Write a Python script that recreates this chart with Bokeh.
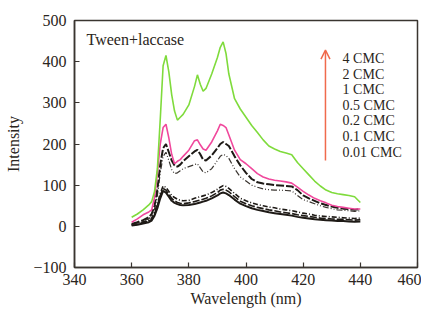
from bokeh.plotting import figure
from bokeh.models import ColumnDataSource, Label, Arrow, OpenHead, FixedTicker
from bokeh.embed import file_html
from bokeh.resources import INLINE

wavelength = [360, 362, 364, 366, 367, 368, 369, 370, 371, 372, 373, 374, 375, 376, 377, 378,
              380, 382, 383, 384, 385, 386, 388, 390, 391, 392, 393, 394, 396, 398, 400, 402,
              404, 406, 408, 410, 412, 414, 416, 418, 420, 422, 424, 426, 428, 430, 432, 434,
              436, 438, 440]

cmc_4 = [22, 30, 40, 52, 60, 85, 140, 260, 390, 415, 375, 320, 280, 258, 265, 272,
         295, 340, 368, 345, 328, 335, 370, 410, 435, 448, 420, 370, 310, 285, 265, 245,
         228, 210, 195, 188, 182, 178, 174, 155, 140, 125, 110, 98, 88, 82, 79, 77,
         75, 72, 58]
cmc_2 = [10, 18, 28, 35, 40, 70, 130, 200, 240, 248, 215, 175, 152, 158, 162, 170,
         185, 208, 210, 198, 188, 185, 205, 232, 248, 245, 240, 222, 185, 162, 152, 140,
         128, 120, 115, 112, 110, 108, 105, 95, 85, 76, 68, 62, 57, 51, 48, 46,
         44, 42, 42]
cmc_1 = [6, 10, 15, 22, 30, 50, 90, 150, 190, 200, 180, 160, 148, 145, 150, 158,
         170, 182, 186, 175, 162, 160, 172, 190, 200, 205, 200, 195, 170, 148, 130, 115,
         107, 104, 102, 100, 99, 98, 97, 88, 75, 68, 62, 56, 52, 48, 45, 43,
         42, 40, 42]
cmc_05 = [5, 8, 13, 18, 25, 42, 75, 130, 170, 180, 160, 138, 128, 130, 135, 140,
          145, 150, 152, 142, 132, 130, 140, 160, 170, 175, 172, 165, 140, 120, 110, 100,
          95, 91, 89, 88, 88, 87, 86, 75, 65, 60, 55, 50, 46, 43, 40, 39,
          38, 36, 38]
cmc_02 = [4, 7, 11, 15, 20, 35, 55, 80, 98, 95, 85, 75, 70, 66, 63, 62,
          63, 68, 70, 72, 74, 76, 82, 90, 95, 99, 97, 92, 80, 68, 62, 57,
          53, 50, 47, 45, 42, 40, 38, 35, 32, 30, 27, 25, 24, 23, 22, 21,
          20, 19, 20]
cmc_01 = [3, 5, 9, 13, 17, 30, 50, 75, 92, 88, 78, 68, 62, 58, 56, 55,
          57, 60, 62, 64, 66, 68, 74, 82, 88, 90, 88, 84, 72, 61, 55, 50,
          46, 43, 40, 38, 35, 33, 31, 28, 26, 24, 22, 20, 19, 18, 17, 17,
          16, 15, 16]
cmc_001 = [2, 4, 7, 10, 14, 26, 44, 68, 86, 82, 72, 62, 57, 54, 52, 51,
           52, 54, 56, 58, 60, 62, 68, 75, 80, 82, 80, 76, 65, 55, 49, 44,
           40, 37, 34, 32, 30, 28, 26, 23, 21, 19, 17, 16, 15, 14, 13, 13,
           12, 11, 12]

legend_labels = ["4 CMC", "2 CMC", "1 CMC", "0.5 CMC", "0.2 CMC", "0.1 CMC", "0.01 CMC"]
x_ticks = [340, 360, 380, 400, 420, 440, 460]
y_ticks = [-100, 0, 100, 200, 300, 400, 500]

src = ColumnDataSource(dict(x=wavelength, c4=cmc_4, c2=cmc_2, c1=cmc_1, c05=cmc_05,
                            c02=cmc_02, c01=cmc_01, c001=cmc_001))

FONT = "Liberation Serif"
TXT = "#2a2520"

p = figure(width=421, height=309, x_range=(340, 460), y_range=(-100, 500),
           output_backend="svg", toolbar_location=None,
           min_border_left=74, min_border_top=20, min_border_right=4, min_border_bottom=42)
p.grid.visible = False
p.outline_line_color = "#3a3530"
p.outline_line_width = 1.5
p.background_fill_color = "white"
p.border_fill_color = "white"

for ax in (p.xaxis[0], p.yaxis[0]):
    ax.major_tick_in = 5
    ax.major_tick_out = 0
    ax.minor_tick_line_color = None
    ax.axis_line_color = "#3a3530"
    ax.axis_line_width = 1.5
    ax.major_tick_line_color = "#3a3530"
    ax.major_tick_line_width = 1.2
    ax.major_label_text_font = FONT
    ax.major_label_text_font_size = "16px"
    ax.major_label_text_color = TXT
    ax.axis_label_text_font = FONT
    ax.axis_label_text_font_size = "16px"
    ax.axis_label_text_font_style = "normal"
    ax.axis_label_text_color = TXT

p.xaxis.ticker = FixedTicker(ticks=x_ticks)
p.yaxis.ticker = FixedTicker(ticks=y_ticks)
p.yaxis.major_label_overrides = {-100: "\u2212100"}
p.xaxis.axis_label = "Wavelength (nm)"
p.yaxis.axis_label = "Intensity"
p.xaxis.major_label_standoff = 6
p.yaxis.major_label_standoff = 8
p.xaxis.axis_label_standoff = 2
p.yaxis.axis_label_standoff = 8

K = "#1e1a16"
p.line("x", "c001", source=src, color=K, line_width=2.0)
p.line("x", "c01", source=src, color=K, line_width=1.6, line_dash="7 2")
p.line("x", "c02", source=src, color=K, line_width=1.6, line_dash="5 2 1 2")
p.line("x", "c05", source=src, color="#3a3530", line_width=1.2, line_dash="6 2 1 2 1 2")
p.line("x", "c1", source=src, color=K, line_width=2.0, line_dash="8 2")
p.line("x", "c2", source=src, color="#f0489c", line_width=1.6)
p.line("x", "c4", source=src, color="#7fdb3c", line_width=1.6)

p.add_layout(Label(x=344.2, y=454, text="Tween+laccase", text_font=FONT,
                   text_font_size="16px", text_color=TXT, text_baseline="middle"))

legend_y = [408, 370, 332, 294, 256, 218, 179]
for lab, yy in zip(legend_labels, legend_y):
    p.add_layout(Label(x=433.8, y=yy, text=lab, text_font=FONT, text_font_size="14px",
                       text_color=TXT, text_baseline="middle"))

p.add_layout(Arrow(x_start=427.8, y_start=160, x_end=427.8, y_end=428,
                   line_color="#f06a4c", line_width=1.5,
                   end=OpenHead(size=9, line_color="#f06a4c", line_width=1.5)))

open("out.html", "w").write(file_html(p, INLINE))
